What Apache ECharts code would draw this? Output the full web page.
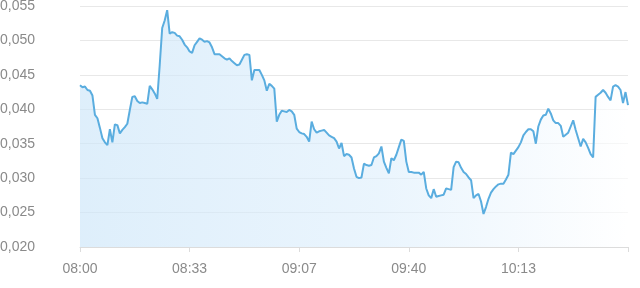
<!DOCTYPE html>
<html>
<head>
<meta charset="utf-8">
<script src="https://cdn.jsdelivr.net/npm/echarts@6/dist/echarts.min.js"></script>
<style>
html,body{margin:0;padding:0;background:#fff;}
#chart{width:640px;height:288px;}
</style>
</head>
<body>
<div id="chart"></div>
<script>
// values, in order (one per sample)
const valuesPart1 = [
  0.0435,0.0432,0.0433,0.0428,0.0427,0.0420,0.0392,0.0387,0.0373,0.0358,
  0.0352,0.0348,0.0371,0.0352,0.0378,0.0377,0.0365,0.0370,0.0374,0.0379,
  0.0399,0.0418,0.0419,0.0412,0.0409,0.0410,0.0409,0.0408,0.0434,0.0429,
  0.0423,0.0415,0.0464,0.0518,0.0529,0.0544,0.0510,0.0512,0.0511,0.0507,
  0.0506,0.0501,0.0494,0.0490,0.0484,0.0482
];
const valuesPart2 = [
  0.0493,0.0498,0.0503,0.0501,0.0498,0.0499,0.0497,0.0490,0.0480,0.0480,
  0.0480,0.0477,0.0474,0.0472,0.0474,0.0470,0.0467,0.0464,0.0465,0.0472,
  0.0479,0.0480,0.0479,0.0442,0.0457,0.0457,0.0457,0.0450,0.0442,0.0427,
  0.0437,0.0434,0.0430,0.0382,0.0392,0.0398,0.0397,0.0396,0.0399,0.0397,
  0.0392,0.0372,0.0367
];
const valuesPart3 = [
  0.0365,0.0364,0.0360,0.0353,0.0382,0.0371,0.0366,0.0368,0.0369,0.0370,
  0.0366,0.0362,0.0360,0.0358,0.0353,0.0343,0.0351,0.0332,0.0335,0.0334,
  0.0330,0.0314,0.0302,0.0300,0.0301,0.0321,0.0319,0.0318,0.0319,0.0330,
  0.0332,0.0336,0.0346,0.0324,0.0315,0.0307,0.0329,0.0326,0.0334,0.0345,
  0.0356,0.0354,0.0324,0.0309
];
const valuesPart4 = [
  0.0309,0.0308,0.0308,0.0308,0.0305,0.0309,0.0285,0.0275,0.0271,0.0284,
  0.0273,0.0274,0.0275,0.0276,0.0285,0.0284,0.0283,0.0316,0.0324,0.0323,
  0.0315,0.0309,0.0306,0.0301,0.0297,0.0271,0.0275,0.0277,0.0266,0.0248,
  0.0258,0.0270,0.0279,0.0284,0.0288,0.0291,0.0292,0.0292,0.0298,0.0305,
  0.0337,0.0335,0.0340,0.0345
];
const valuesPart5 = [
  0.0352,0.0362,0.0367,0.0371,0.0371,0.0368,0.0350,0.0375,0.0385,0.0391,
  0.0392,0.0401,0.0394,0.0384,0.0380,0.0380,0.0376,0.0360,0.0363,0.0366,
  0.0375,0.0384,0.0370,0.0358,0.0346,0.0357,0.0352,0.0344,0.0335,0.0330,
  0.0418,0.0421,0.0424,0.0428,0.0424,0.0418,0.0413,0.0433,0.0435,0.0433,
  0.0428,0.0409,0.0425,0.0406
];
const values = [].concat(valuesPart1, valuesPart2, valuesPart3, valuesPart4, valuesPart5);

// time axis: start, sample step (seconds), label every N samples
const startTime = '08:00';
const stepSeconds = 45.4;
const labelEvery = 44;
const yTicks = [0.020, 0.025, 0.030, 0.035, 0.040, 0.045, 0.050, 0.055];

const categories = values.map(function (v, i) {
  const [h0, m0] = startTime.split(':').map(Number);
  const totalMin = Math.round(h0 * 60 + m0 + i * stepSeconds / 60);
  const h = Math.floor(totalMin / 60), m = totalMin % 60;
  return String(h).padStart(2, '0') + ':' + String(m).padStart(2, '0');
});

const chart = echarts.init(document.getElementById('chart'), null, {renderer: 'canvas'});
const lastIdx = values.length - 1;
chart.setOption({
  animation: false,
  backgroundColor: '#ffffff',
  grid: {left: 80, right: 12, top: 6, bottom: 41, containLabel: false, outerBoundsMode: 'none'},
  xAxis: {
    type: 'category',
    boundaryGap: false,
    data: categories,
    axisLine: {lineStyle: {color: '#dcdcdc', width: 1}},
    axisTick: {
      show: true, length: 5,
      interval: function (i) { return i % labelEvery === 0; },
      lineStyle: {color: '#dcdcdc'}
    },
    axisLabel: {
      interval: function (i) { return i % labelEvery === 0 && i !== lastIdx; },
      color: '#8a8a8a',
      fontFamily: 'Liberation Sans, Arial, sans-serif',
      fontSize: 14,
      margin: 15
    },
    splitLine: {show: false}
  },
  yAxis: {
    type: 'value',
    min: yTicks[0],
    max: yTicks[yTicks.length - 1],
    interval: 0.005,
    axisLine: {show: false},
    axisTick: {show: false},
    axisLabel: {
      color: '#8a8a8a',
      fontFamily: 'Liberation Sans, Arial, sans-serif',
      fontSize: 14,
      margin: 45,
      formatter: function (v) { return v.toFixed(3).replace('.', ','); }
    },
    splitLine: {lineStyle: {color: '#e8e8e8', width: 1}}
  },
  series: [{
    type: 'line',
    data: values,
    symbol: 'none',
    smooth: false,
    lineStyle: {color: '#5aaddf', width: 2},
    itemStyle: {color: '#5aaddf'},
    areaStyle: {
      color: new echarts.graphic.LinearGradient(0, 0, 1, 0, [
        {offset: 0, color: 'rgba(205,230,249,0.95)'},
        {offset: 0.55, color: 'rgba(220,238,252,0.85)'},
        {offset: 1, color: 'rgba(255,255,255,0.9)'}
      ])
    }
  }]
});
</script>
</body>
</html>
